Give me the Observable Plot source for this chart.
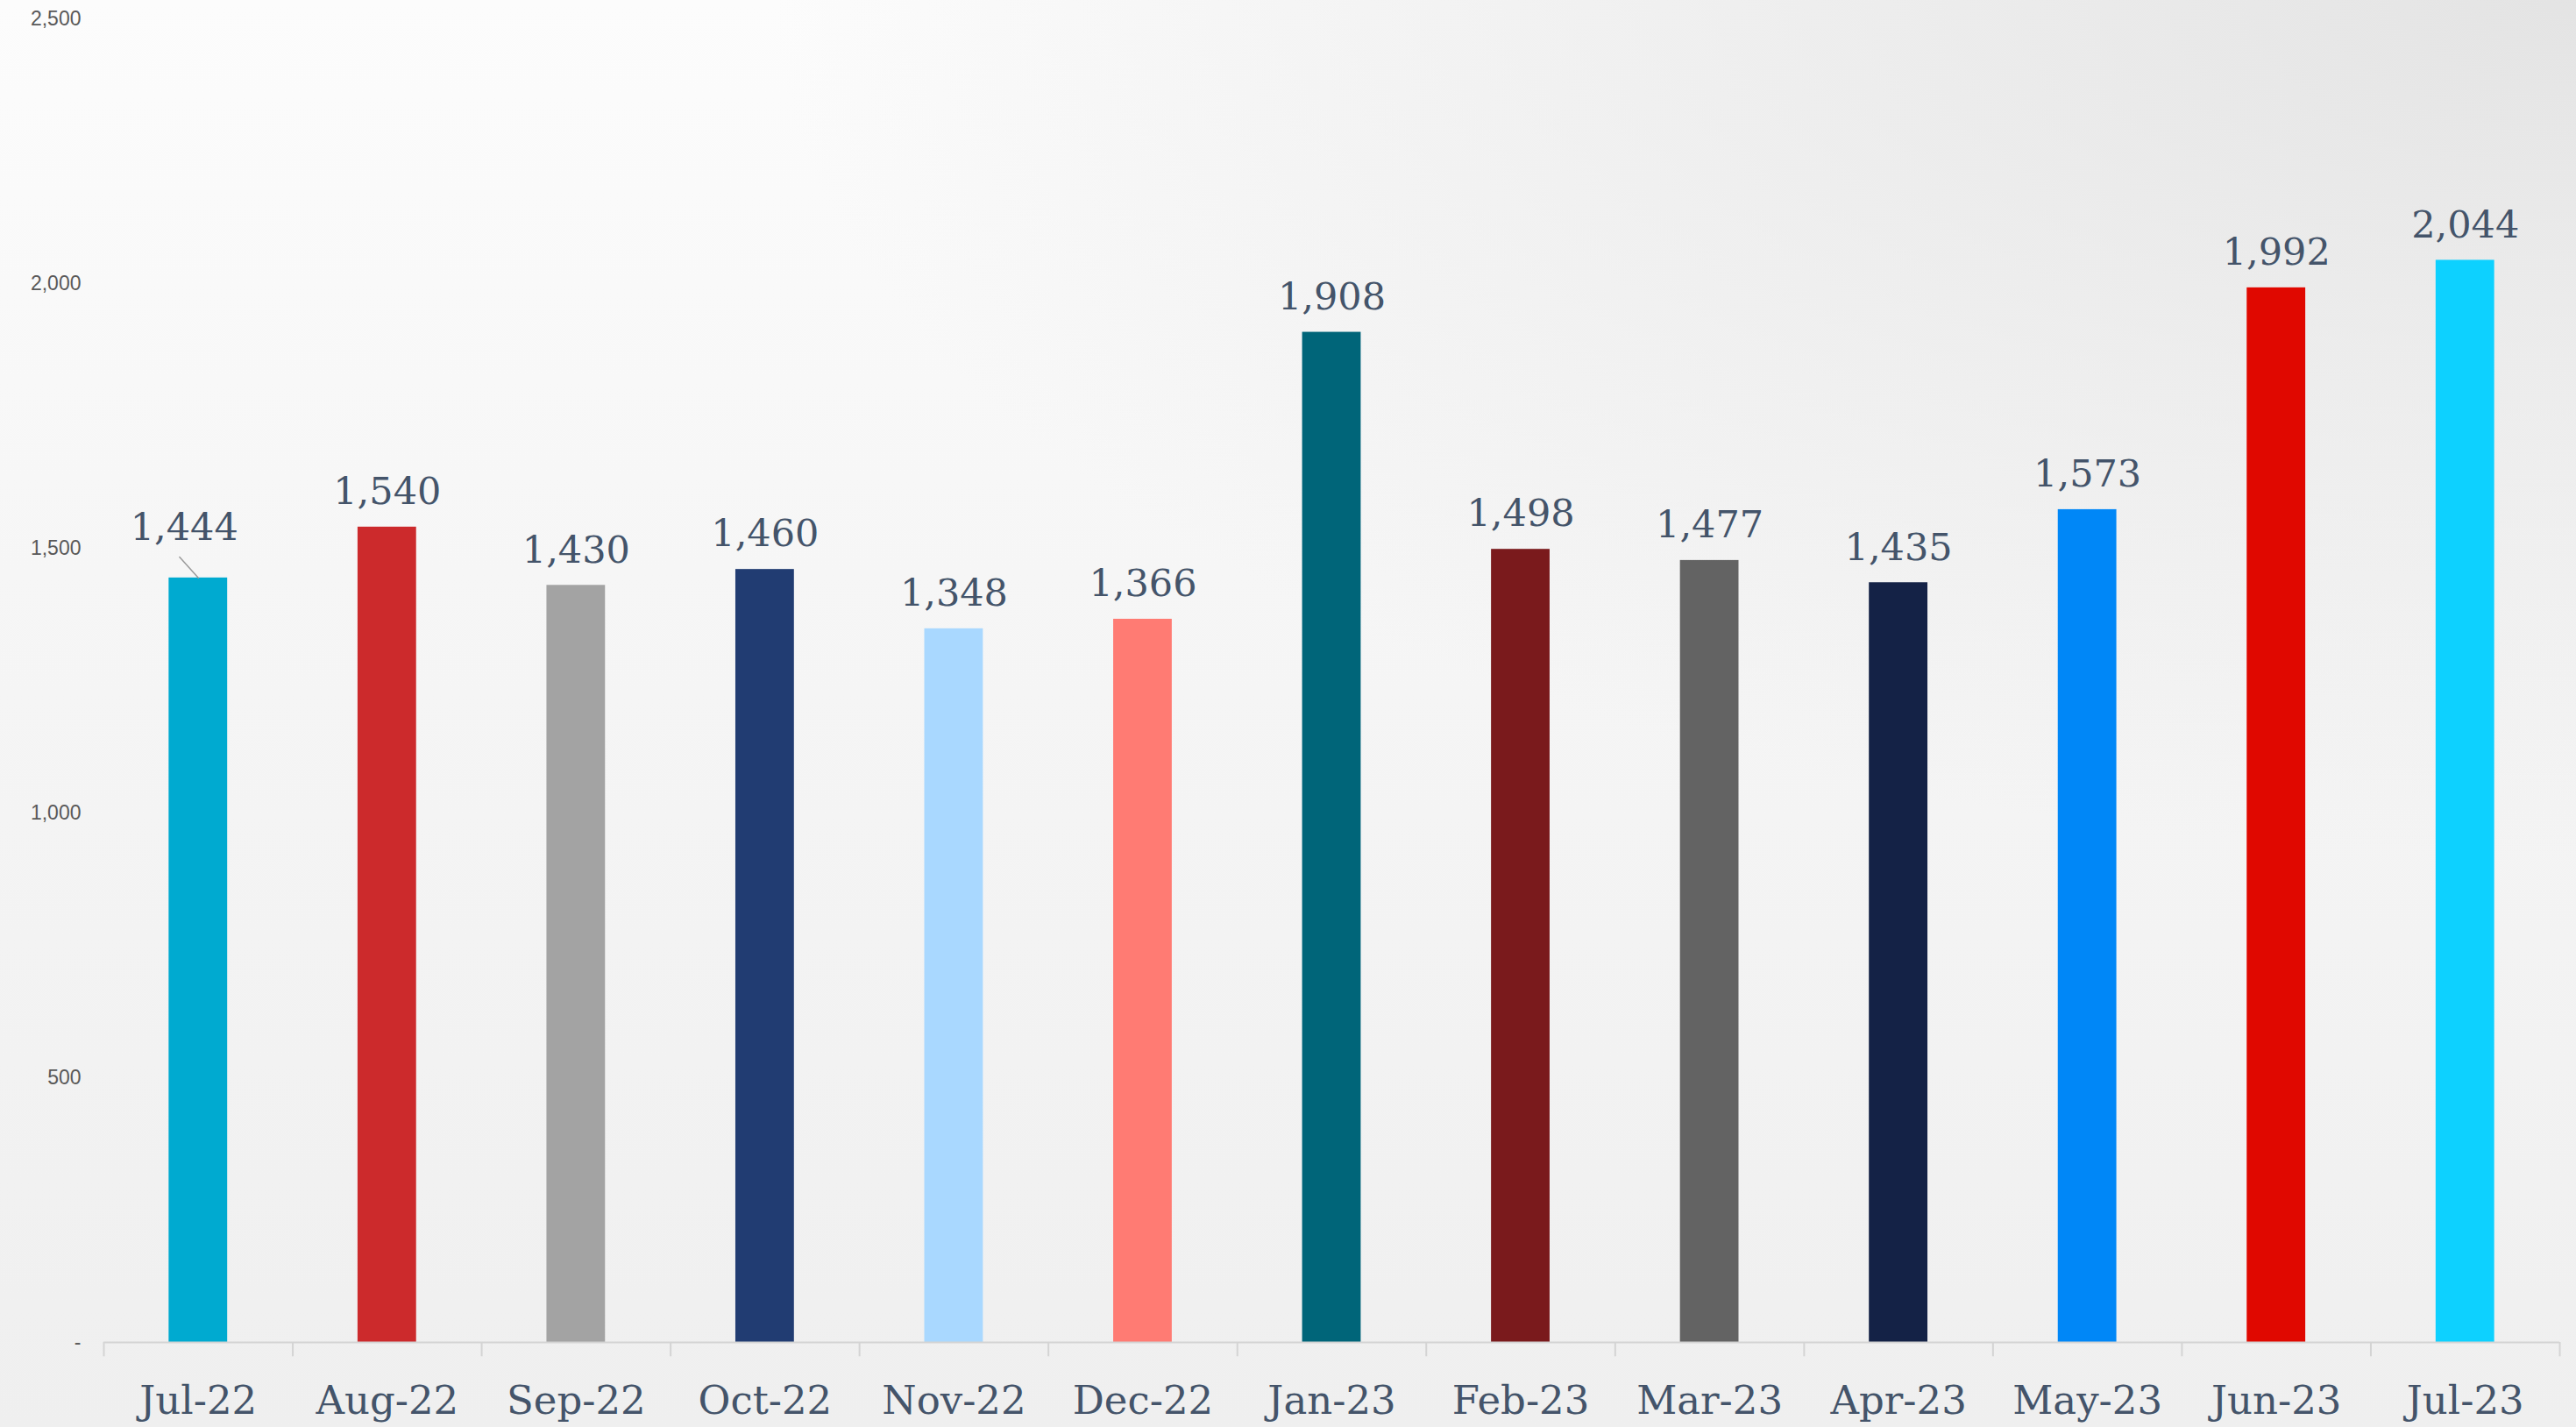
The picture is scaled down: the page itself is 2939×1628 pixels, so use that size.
<!DOCTYPE html>
<html>
<head>
<meta charset="utf-8">
<script src="https://cdn.jsdelivr.net/npm/d3@7"></script>
<script src="https://cdn.jsdelivr.net/npm/@observablehq/plot@0.6"></script>
<style>
  html, body { margin: 0; padding: 0; }
  body {
    width: 2939px; height: 1628px; overflow: hidden;
    background:
      radial-gradient(ellipse 70% 60% at 100% 0%, rgba(225,225,225,0.9), rgba(225,225,225,0) 100%),
      linear-gradient(180deg, #fcfcfc 0%, #f6f6f6 40%, #efefef 100%);
  }
  #chart svg { display: block; background: transparent !important; }
</style>
</head>
<body>
<div id="chart"></div>
<script>
const months = ["Jul-22","Aug-22","Sep-22","Oct-22","Nov-22","Dec-22","Jan-23","Feb-23","Mar-23","Apr-23","May-23","Jun-23","Jul-23"];
const values = [1444, 1540, 1430, 1460, 1348, 1366, 1908, 1498, 1477, 1435, 1573, 1992, 2044];
const colors = ["#00aad0","#cc2a2c","#a3a3a3","#213c72","#a9d8ff","#ff7b73","#006579","#7a1a1c","#636363","#142246","#0087f7","#e00800","#0dd1ff"];
const yTicks = [0, 500, 1000, 1500, 2000, 2500];

const data = months.map((m, i) => ({month: m, value: values[i], color: colors[i]}));

const W = 2939, H = 1628;
const mL = 118, mR = 19, mT = 21, mB = 97;
const bw = (W - mL - mR) / months.length;
const serif = "'Roboto Slab', 'DejaVu Serif', serif";
const labelColor = "#44546a";

const leader = {
  draw(context, l) { context.moveTo(0, 0); context.lineTo(0, -l); }
};

const chart = Plot.plot({
  width: W,
  height: H,
  marginLeft: mL,
  marginRight: mR,
  marginTop: mT,
  marginBottom: mB,
  style: {background: "transparent", overflow: "visible"},
  x: {domain: months, paddingInner: 0.69, paddingOuter: 0.345, round: false, label: null},
  y: {domain: [0, 2500], label: null},
  marks: [
    Plot.axisY({
      ticks: yTicks, tickSize: 0, tickPadding: 26,
      tickFormat: d => d === 0 ? "-" : d3.format(",")(d),
      fontSize: 23, fontFamily: "'Liberation Sans', Arial, sans-serif",
      fill: "#595959", label: null
    }),
    Plot.axisX({
      tickSize: 0, tickPadding: 50, fontSize: 45, fontFamily: serif,
      fill: labelColor, label: null
    }),
    Plot.barY(data, {x: "month", y: "value", fill: "color"}),
    Plot.ruleY([0], {stroke: "#d4d4d4", strokeWidth: 2}),
    Plot.ruleX(data, {x: "month", y1: 0, y2: -27, dx: -bw / 2, stroke: "#d4d4d4", strokeWidth: 2}),
    Plot.ruleX(data.slice(-1), {x: "month", y1: 0, y2: -27, dx: bw / 2, stroke: "#d4d4d4", strokeWidth: 2}),
    Plot.text(data.slice(1), {
      x: "month", y: "value", text: d => d3.format(",")(d.value),
      dy: -40, fontSize: 43, fontFamily: serif, fill: labelColor
    }),
    Plot.text(data.slice(0, 1), {
      x: "month", y: "value", text: d => d3.format(",")(d.value),
      dy: -57, dx: -16, fontSize: 43, fontFamily: serif, fill: labelColor
    }),
    Plot.vector(data.slice(0, 1), {
      x: "month", y: "value", length: 32, rotate: -42, anchor: "start",
      shape: leader, stroke: "#9a9a9a", strokeWidth: 1.5
    })
  ]
});
document.getElementById("chart").append(chart);
</script>
</body>
</html>
